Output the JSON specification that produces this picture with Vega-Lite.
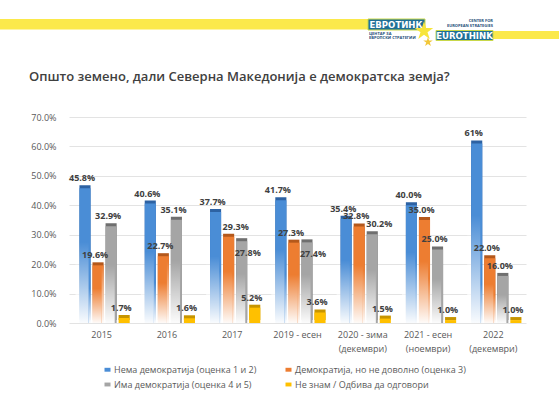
{
  "$schema": "https://vega.github.io/schema/vega-lite/v6.json",
  "width": 457,
  "height": 206,
  "autosize": {"type": "none"},
  "padding": {"left": 69, "top": 117, "right": 33, "bottom": 72},
  "background": "white",
  "config": {
    "view": {"stroke": null},
    "font": "Open Sans"
  },
  "layer": [
    {
      "data": {
        "values": [
          {"period": "2015", "series": "Нема демократија (оценка 1 и 2)", "value": 45.8, "label": "45.8%"},
          {"period": "2015", "series": "Демократија, но не доволно (оценка 3)", "value": 19.6, "label": "19.6%"},
          {"period": "2015", "series": "Има демократија (оценка 4 и 5)", "value": 32.9, "label": "32.9%"},
          {"period": "2015", "series": "Не знам / Одбива да одговори", "value": 1.7, "label": "1.7%"},
          {"period": "2016", "series": "Нема демократија (оценка 1 и 2)", "value": 40.6, "label": "40.6%"},
          {"period": "2016", "series": "Демократија, но не доволно (оценка 3)", "value": 22.7, "label": "22.7%"},
          {"period": "2016", "series": "Има демократија (оценка 4 и 5)", "value": 35.1, "label": "35.1%"},
          {"period": "2016", "series": "Не знам / Одбива да одговори", "value": 1.6, "label": "1.6%"},
          {"period": "2017", "series": "Нема демократија (оценка 1 и 2)", "value": 37.7, "label": "37.7%"},
          {"period": "2017", "series": "Демократија, но не доволно (оценка 3)", "value": 29.3, "label": "29.3%"},
          {"period": "2017", "series": "Има демократија (оценка 4 и 5)", "value": 27.8, "label": "27.8%"},
          {"period": "2017", "series": "Не знам / Одбива да одговори", "value": 5.2, "label": "5.2%"},
          {"period": "2019 - есен", "series": "Нема демократија (оценка 1 и 2)", "value": 41.7, "label": "41.7%"},
          {"period": "2019 - есен", "series": "Демократија, но не доволно (оценка 3)", "value": 27.3, "label": "27.3%"},
          {"period": "2019 - есен", "series": "Има демократија (оценка 4 и 5)", "value": 27.4, "label": "27.4%"},
          {"period": "2019 - есен", "series": "Не знам / Одбива да одговори", "value": 3.6, "label": "3.6%"},
          {"period": "2020 - зима (декември)", "series": "Нема демократија (оценка 1 и 2)", "value": 35.4, "label": "35.4%"},
          {"period": "2020 - зима (декември)", "series": "Демократија, но не доволно (оценка 3)", "value": 32.8, "label": "32.8%"},
          {"period": "2020 - зима (декември)", "series": "Има демократија (оценка 4 и 5)", "value": 30.2, "label": "30.2%"},
          {"period": "2020 - зима (декември)", "series": "Не знам / Одбива да одговори", "value": 1.5, "label": "1.5%"},
          {"period": "2021 - есен (ноември)", "series": "Нема демократија (оценка 1 и 2)", "value": 40.0, "label": "40.0%"},
          {"period": "2021 - есен (ноември)", "series": "Демократија, но не доволно (оценка 3)", "value": 35.0, "label": "35.0%"},
          {"period": "2021 - есен (ноември)", "series": "Има демократија (оценка 4 и 5)", "value": 25.0, "label": "25.0%"},
          {"period": "2021 - есен (ноември)", "series": "Не знам / Одбива да одговори", "value": 1.0, "label": "1.0%"},
          {"period": "2022 (декември)", "series": "Нема демократија (оценка 1 и 2)", "value": 61.0, "label": "61%"},
          {"period": "2022 (декември)", "series": "Демократија, но не доволно (оценка 3)", "value": 22.0, "label": "22.0%"},
          {"period": "2022 (декември)", "series": "Има демократија (оценка 4 и 5)", "value": 16.0, "label": "16.0%"},
          {"period": "2022 (декември)", "series": "Не знам / Одбива да одговори", "value": 1.0, "label": "1.0%"}
        ]
      },
      "encoding": {
        "x": {
          "field": "period",
          "type": "nominal",
          "sort": null,
          "scale": {"paddingInner": 0.2, "paddingOuter": 0.1},
          "axis": {
            "title": null,
            "domain": false,
            "ticks": false,
            "labelAngle": 0,
            "labelFont": "Open Sans",
            "labelFontSize": 9,
            "labelColor": "#595959",
            "labelPadding": 7,
            "labelLineHeight": 14,
            "labelExpr": "indexof(datum.label, ' (') > 0 ? [slice(datum.label, 0, indexof(datum.label, ' (')), slice(datum.label, indexof(datum.label, ' (') + 1)] : datum.label"
          }
        },
        "xOffset": {
          "field": "series",
          "type": "nominal",
          "sort": ["Нема демократија (оценка 1 и 2)", "Демократија, но не доволно (оценка 3)", "Има демократија (оценка 4 и 5)", "Не знам / Одбива да одговори"]
        },
        "y": {
          "field": "value",
          "type": "quantitative",
          "scale": {"domain": [0, 70]},
          "axis": {
            "title": null,
            "domain": false,
            "ticks": false,
            "values": [0, 10, 20, 30, 40, 50, 60, 70],
            "labelExpr": "format(datum.value, '.1f') + '%'",
            "labelFont": "Open Sans",
            "labelFontSize": 9,
            "labelColor": "#595959",
            "labelPadding": 13,
            "gridColor": "#e3e3e3",
            "gridWidth": 1
          }
        }
      },
      "layer": [
        {
          "mark": {"type": "bar", "xOffset": 3.5, "yOffset": -3, "width": {"band": 0.85}},
          "encoding": {
            "fill": {
              "field": "series",
              "type": "nominal",
              "sort": ["Нема демократија (оценка 1 и 2)", "Демократија, но не доволно (оценка 3)", "Има демократија (оценка 4 и 5)", "Не знам / Одбива да одговори"],
              "scale": {"range": ["#2d62a3", "#b4581b", "#6f6f6f", "#c79500"]},
              "legend": null
            }
          }
        },
        {
          "mark": {"type": "bar", "width": {"band": 0.85}},
          "encoding": {
            "color": {
              "field": "series",
              "type": "nominal",
              "sort": ["Нема демократија (оценка 1 и 2)", "Демократија, но не доволно (оценка 3)", "Има демократија (оценка 4 и 5)", "Не знам / Одбива да одговори"],
              "scale": {"range": ["#4a8dd6", "#ed7d31", "#a5a5a5", "#ffc000"]},
              "legend": {
                "title": null,
                "orient": "none",
                "legendX": 34,
                "legendY": 248,
                "direction": "horizontal",
                "columns": 2,
                "symbolType": "M-1,-0.65H1V0.65H-1Z",
                "symbolSize": 36,
                "labelFont": "Open Sans",
                "labelFontSize": 9,
                "labelColor": "#595959",
                "labelLimit": 300,
                "labelOffset": 2,
                "columnPadding": 27,
                "rowPadding": 5
              }
            }
          }
        },
        {
          "transform": [{"filter": "datum.series !== 'Не знам / Одбива да одговори'"}],
          "mark": {
            "type": "bar",
            "xOffset": 1.75,
            "width": {"band": 1},
            "color": {
              "gradient": "linear",
              "x1": 0, "y1": 0, "x2": 0, "y2": 1,
              "stops": [
                {"offset": 0, "color": "rgba(255,255,255,0)"},
                {"offset": 0.4, "color": "rgba(255,255,255,0)"},
                {"offset": 1, "color": "rgba(255,255,255,0.97)"}
              ]
            }
          }
        },
        {
          "transform": [{"filter": "!((datum.series === 'Има демократија (оценка 4 и 5)' && (datum.period === '2017' || datum.period === '2019 - есен' || datum.period === '2020 - зима (декември)')) || (datum.series === 'Демократија, но не доволно (оценка 3)' && datum.period === '2017'))"}],
          "mark": {"type": "text", "dy": -10, "dx": 0, "fontWeight": "bold", "fontSize": 9, "color": "#404040", "font": "Open Sans"},
          "encoding": {
            "text": {"field": "label"}
          }
        },
        {
          "transform": [{"filter": "(datum.series === 'Има демократија (оценка 4 и 5)' && datum.period === '2020 - зима (декември)') || (datum.series === 'Демократија, но не доволно (оценка 3)' && datum.period === '2017')"}],
          "mark": {"type": "text", "dy": -10, "dx": 10, "fontWeight": "bold", "fontSize": 9, "color": "#404040", "font": "Open Sans"},
          "encoding": {
            "text": {"field": "label"}
          }
        },
        {
          "transform": [{"filter": "datum.series === 'Има демократија (оценка 4 и 5)' && (datum.period === '2017' || datum.period === '2019 - есен')"}],
          "mark": {"type": "text", "dy": 12, "dx": 9, "fontWeight": "bold", "fontSize": 9, "color": "#404040", "font": "Open Sans"},
          "encoding": {
            "text": {"field": "label"}
          }
        }
      ]
    },
    {
      "data": {"values": [{}]},
      "layer": [
        {
          "mark": {"type": "rect", "color": "#fbe94b"},
          "encoding": {
            "x": {"datum": 0, "type": "quantitative", "scale": {"domain": [69, 526], "nice": false, "zero": false}, "axis": null},
            "x2": {"datum": 368},
            "y": {"datum": 19, "type": "quantitative", "scale": {"domain": [117, 323], "reverse": true, "nice": false, "zero": false}, "axis": null},
            "y2": {"datum": 29.5}
          }
        },
        {
          "mark": {"type": "rect", "color": "#fbe94b"},
          "encoding": {
            "x": {"datum": 490, "type": "quantitative"},
            "x2": {"datum": 559},
            "y": {"datum": 31, "type": "quantitative"},
            "y2": {"datum": 39}
          }
        },
        {
          "mark": {"type": "rect", "color": "#1f6f96", "stroke": "#c8d84a", "strokeWidth": 1},
          "encoding": {
            "x": {"datum": 368, "type": "quantitative"},
            "x2": {"datum": 425},
            "y": {"datum": 19, "type": "quantitative"},
            "y2": {"datum": 30}
          }
        },
        {
          "mark": {"type": "rect", "color": "#1f6f96", "stroke": "#c8d84a", "strokeWidth": 1},
          "encoding": {
            "x": {"datum": 436, "type": "quantitative"},
            "x2": {"datum": 493},
            "y": {"datum": 30.5, "type": "quantitative"},
            "y2": {"datum": 40.5}
          }
        },
        {
          "mark": {"type": "point", "filled": true, "color": "#f7e53b", "opacity": 1, "size": 380, "shape": "M0,-1L0.22,-0.31L0.95,-0.31L0.36,0.12L0.59,0.81L0,0.38L-0.59,0.81L-0.36,0.12L-0.95,-0.31L-0.22,-0.31Z"},
          "encoding": {
            "x": {"datum": 424, "type": "quantitative"},
            "y": {"datum": 31, "type": "quantitative"}
          }
        },
        {
          "mark": {"type": "point", "filled": true, "color": "#f2c73a", "opacity": 1, "size": 100, "shape": "M0,-1L0.22,-0.31L0.95,-0.31L0.36,0.12L0.59,0.81L0,0.38L-0.59,0.81L-0.36,0.12L-0.95,-0.31L-0.22,-0.31Z"},
          "encoding": {
            "x": {"datum": 428, "type": "quantitative"},
            "y": {"datum": 42, "type": "quantitative"}
          }
        },
        {
          "mark": {"type": "text", "text": "ЕВРОТИНК", "color": "white", "fontWeight": "bold", "fontSize": 9.5, "font": "DejaVu Sans Condensed", "baseline": "middle"},
          "encoding": {
            "x": {"datum": 396, "type": "quantitative"},
            "y": {"datum": 24.8, "type": "quantitative"}
          }
        },
        {
          "mark": {"type": "text", "text": "EUROTHINK", "color": "white", "fontWeight": "bold", "fontSize": 9.5, "font": "DejaVu Sans Condensed", "baseline": "middle"},
          "encoding": {
            "x": {"datum": 464.5, "type": "quantitative"},
            "y": {"datum": 35.7, "type": "quantitative"}
          }
        },
        {
          "mark": {"type": "text", "text": ["ЦЕНТАР ЗА", "ЕВРОПСКИ СТРАТЕГИИ"], "color": "#1f4f7a", "fontWeight": "bold", "fontSize": 4, "lineHeight": 4.5, "align": "left", "baseline": "top"},
          "encoding": {
            "x": {"datum": 369, "type": "quantitative"},
            "y": {"datum": 31.5, "type": "quantitative"}
          }
        },
        {
          "mark": {"type": "text", "text": ["CENTER FOR", "EUROPEAN STRATEGIES"], "color": "#1f4f7a", "fontWeight": "bold", "fontSize": 4, "lineHeight": 4.5, "align": "right", "baseline": "top"},
          "encoding": {
            "x": {"datum": 493, "type": "quantitative"},
            "y": {"datum": 19, "type": "quantitative"}
          }
        },
        {
          "mark": {"type": "text", "text": "Општо земено, дали Северна Македонија е демократска земја?", "color": "#404040", "fontWeight": 600, "fontSize": 13, "font": "Open Sans", "align": "left", "baseline": "alphabetic"},
          "encoding": {
            "x": {"datum": 29, "type": "quantitative"},
            "y": {"datum": 81, "type": "quantitative"}
          }
        }
      ]
    }
  ],
  "resolve": {"scale": {"x": "independent", "y": "independent"}}
}
